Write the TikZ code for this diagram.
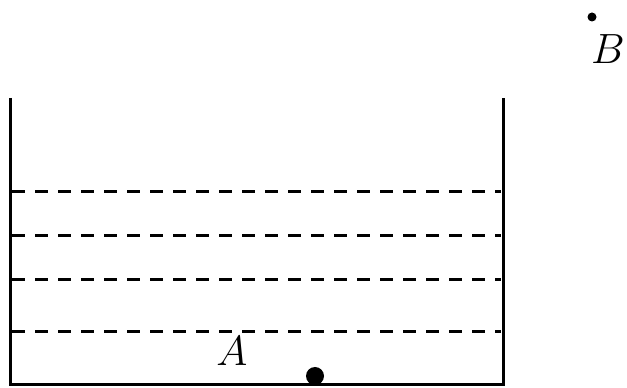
\documentclass[tikz,border=0pt]{standalone}
\usepackage{tikz}

\tikzstyle{wall}=[line width=3pt]
\tikzstyle{level}=[line width=3pt, dash pattern=on 13pt off 10pt]
\tikzstyle{bigdot}=[circle, fill=black, inner sep=0pt, minimum size=18pt]
\tikzstyle{smalldot}=[circle, fill=black, inner sep=0pt, minimum size=9pt]
\tikzstyle{plabel}=[inner sep=0pt, font=\Huge, scale=1.7]

\begin{document}
\begin{tikzpicture}[x=1pt,y=1pt]
\useasboundingbox (0,0) rectangle (627,388);

\coordinate (tl) at (10,290);
\coordinate (bl) at (10,3);
\coordinate (br) at (503,3);
\coordinate (tr) at (503,290);
\draw [wall] (tl) -- (bl) -- (br) -- (tr);

\foreach \h in {196,152,108,56}
{
\coordinate (l\h) at (12,\h);
\coordinate (r\h) at (501,\h);
\draw [level] (l\h) -- (r\h);
}

\node [bigdot] (a) at (315,12) {};
\node [plabel] (la) at (232,37) {$A$};
\node [smalldot] (b) at (592,371) {};
\node [plabel] (lb) at (608,339) {$B$};
\end{tikzpicture}
\end{document}
